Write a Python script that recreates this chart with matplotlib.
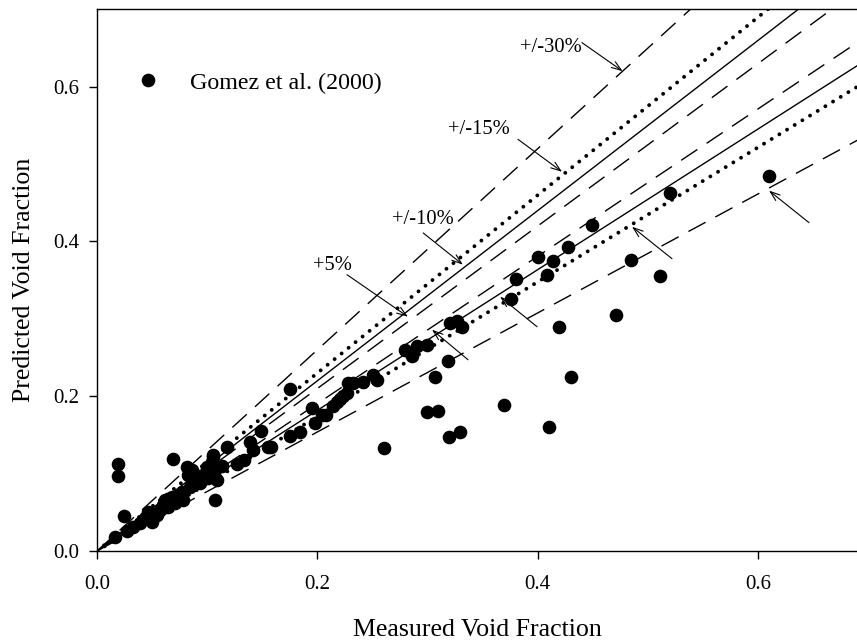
import matplotlib
matplotlib.use("Agg")
import matplotlib.pyplot as plt
import numpy as np

plt.rcParams['font.family'] = ['Liberation Serif', 'DejaVu Serif']

# measured (x) and predicted (y) void fraction, Gomez et al. (2000)
measured = [0.0163, 0.027, 0.033, 0.039, 0.0436, 0.0466, 0.0496, 0.054, 0.057, 0.060,
            0.0617, 0.0647, 0.0677, 0.0708, 0.0738, 0.0768, 0.0783, 0.0814, 0.0829, 0.0844,
            0.0859, 0.089, 0.0905, 0.0935, 0.0965, 0.0995, 0.101, 0.104, 0.1056, 0.107,
            0.1086, 0.0193, 0.0193, 0.0693, 0.0248, 0.107,
            0.175, 0.1056, 0.1177, 0.139, 0.1419, 0.149, 0.155, 0.158, 0.175, 0.1842,
            0.1948, 0.198, 0.204, 0.208, 0.214, 0.2204, 0.2265, 0.228, 0.113, 0.127, 0.133,
            0.320, 0.3265, 0.331, 0.2795, 0.2856, 0.290, 0.2995, 0.3188, 0.3067, 0.2508,
            0.2538, 0.2326, 0.2417, 0.2235, 0.2175, 0.2993, 0.3097, 0.26, 0.3197, 0.3294,
            0.449, 0.4277, 0.4005, 0.4135, 0.408, 0.3799, 0.3754, 0.485, 0.4707, 0.4195,
            0.4298, 0.3697, 0.610, 0.52, 0.511, 0.41]
predicted = [0.0185, 0.026, 0.0315, 0.036, 0.0422, 0.051, 0.038, 0.0466, 0.053, 0.0595,
             0.066, 0.057, 0.0703, 0.0617, 0.0725, 0.0768, 0.066, 0.109, 0.0983, 0.083,
             0.105, 0.0897, 0.096, 0.088, 0.0983, 0.109, 0.094, 0.1155, 0.122, 0.105,
             0.092, 0.112, 0.097, 0.1186, 0.0457, 0.066,
             0.209, 0.124, 0.135, 0.1414, 0.131, 0.155, 0.135, 0.135, 0.149, 0.1544,
             0.1845, 0.165, 0.176, 0.176, 0.187, 0.197, 0.204, 0.217, 0.11, 0.113, 0.118,
             0.2945, 0.297, 0.289, 0.260, 0.2515, 0.2645, 0.2665, 0.245, 0.225, 0.2277,
             0.221, 0.217, 0.219, 0.2, 0.193, 0.18, 0.181, 0.133, 0.147, 0.154,
             0.4217, 0.3929, 0.3799, 0.3744, 0.357, 0.352, 0.3255, 0.3764, 0.305, 0.290,
             0.2247, 0.1888, 0.485, 0.462, 0.356, 0.16]

# error bands: upper slope (1+p) and lower slope 1/(1+p)
band_pct = [30, 15, 10, 5]
band_style = ['dashed', 'dotted', 'solid', 'dashed']

# annotation labels: (text, text position, arrow tail, arrow tip)
labels = ['+/-30%', '+/-15%', '+/-10%', '+5%']
label_xy = [(0.384, 0.651), (0.3185, 0.545), (0.2677, 0.428), (0.196, 0.3686)]
label_tail = [(0.440, 0.657), (0.382, 0.532), (0.296, 0.411), (0.2269, 0.357)]
label_tip = [(0.477, 0.620), (0.422, 0.490), (0.332, 0.370), (0.2822, 0.3027)]
lower_tail = [(0.3367, 0.2471), (0.3993, 0.2898), (0.5218, 0.3777), (0.6461, 0.4243)]
lower_tip = [(0.304, 0.286), (0.3657, 0.3286), (0.4855, 0.419), (0.6098, 0.4657)]

W, H = 857, 642
fig = plt.figure(figsize=(W / 100, H / 100), dpi=100)
ax = fig.add_axes([97 / W, (H - 551) / H, (W - 97) / W, (551 - 9.3) / H])

XMAX = (W - 97) / 1102.0
ax.set_xlim(0, XMAX)
ax.set_ylim(0, 0.7)

xx = np.array([0, 1.0])
for p, st in zip(band_pct, band_style):
    for s in (1 + p / 100.0, 1 / (1 + p / 100.0)):
        if st == 'dashed':
            ax.plot(xx, s * xx, color='black', lw=1.0, linestyle=(0, (14, 8)), zorder=2)
        elif st == 'dotted':
            ax.plot(xx, s * xx, color='black', lw=2.8, linestyle=(0, (0.01, 2.3)),
                    dash_capstyle='round', zorder=2)
        else:
            ax.plot(xx, s * xx, color='black', lw=1.0, linestyle='-', zorder=2)

ax.plot(measured, predicted, 'o', color='black', markersize=8.8, linestyle='none',
        label='Gomez et al. (2000)', zorder=3, clip_on=False)

for t, xy in zip(labels, label_xy):
    ax.text(xy[0], xy[1], t, fontsize=14.8, ha='left', va='center')
arrow_kw = dict(arrowstyle='->,head_length=0.7,head_width=0.25', color='black', lw=0.8,
                shrinkA=0, shrinkB=0)
for tail, tip in zip(label_tail + lower_tail, label_tip + lower_tip):
    ax.annotate('', xy=tip, xytext=tail, arrowprops=arrow_kw)

leg = ax.legend(loc='center left', bbox_to_anchor=((136 - 97) / 760, (551 - 83) / 541.7),
                frameon=False, fontsize=17.3, handlelength=1.0, handletextpad=1.25,
                borderpad=0, borderaxespad=0, markerscale=1.0)

ax.spines['right'].set_visible(False)
for sp in ['left', 'bottom', 'top']:
    ax.spines[sp].set_linewidth(1.0)
ax.set_xticks([0.0, 0.2, 0.4, 0.6])
ax.set_yticks([0.0, 0.2, 0.4, 0.6])
ax.set_xticklabels(['0.0', '0.2', '0.4', '0.6'])
ax.set_yticklabels(['0.0', '0.2', '0.4', '0.6'])
ax.tick_params(direction='out', length=6, width=1.0, labelsize=15, pad=7, top=False, right=False)
ax.tick_params(axis='x', pad=11)

ax.set_xlabel('Measured Void Fraction', fontsize=18.6, labelpad=18)
ax.set_ylabel('Predicted Void Fraction', fontsize=18.6, labelpad=13)

fig.savefig('out.png', dpi=100)
